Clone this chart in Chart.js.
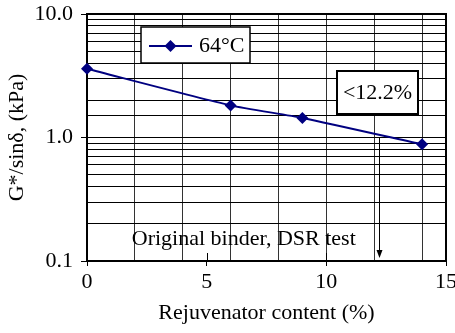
<!DOCTYPE html>
<html>
<head>
<meta charset="utf-8">
<script src="https://cdn.jsdelivr.net/npm/chart.js@4"></script>
<style>
  html, body { margin: 0; padding: 0; background: #fff; }
  canvas { display: block; }
</style>
</head>
<body>
<canvas id="grafico" width="455" height="333"></canvas>
<script>
var CONTEUDO = [0, 6, 9, 14];            // rejuvenator content (%)
var G_SIN = [3.6, 1.82, 1.44, 0.88];     // G*/sin(delta), kPa
var SERIE = "64°C";
var LIMITE = 12.2;                        // arrow position
var ROTULO_LIMITE = "<12.2%";
var NOTA = "Original binder, DSR test";
var Y_ROTULOS = [0.1, 1, 10];
var X_ROTULOS = [0, 5, 10, 15];

var FONTE = "'Liberation Serif', 'Times New Roman', serif";
var TAM = 22;
var AZUL = "#000080";

function ehDecada(v) {
  var l = Math.log10(v);
  return Math.abs(l - Math.round(l)) < 1e-6;
}

// moldura, marcas internas, legenda e anotações
var extras = {
  id: "extras",
  beforeDatasetsDraw: function (chart) {
    var ctx = chart.ctx, a = chart.chartArea, x = chart.scales.x;
    ctx.save();
    ctx.strokeStyle = "#000";
    ctx.lineWidth = 2;
    ctx.strokeRect(a.left, a.top, a.right - a.left, a.bottom - a.top);
    ctx.lineWidth = 1;
    [5, 10].forEach(function (v) {
      var px = Math.round(x.getPixelForValue(v)) + 0.5;
      ctx.beginPath();
      ctx.moveTo(px, a.bottom);
      ctx.lineTo(px, a.bottom - 8);
      ctx.stroke();
    });
    ctx.restore();
  },
  afterDatasetsDraw: function (chart) {
    var ctx = chart.ctx, a = chart.chartArea;
    var x = chart.scales.x, y = chart.scales.y;
    ctx.save();

    // legenda
    var lx = 141, ly = 27, lw = 109, lh = 36;
    ctx.fillStyle = "#fff";
    ctx.fillRect(lx, ly, lw, lh);
    ctx.strokeStyle = "#000";
    ctx.lineWidth = 1.5;
    ctx.strokeRect(lx, ly, lw, lh);
    var cy = ly + lh / 2 + 1;
    ctx.strokeStyle = AZUL;
    ctx.lineWidth = 2;
    ctx.beginPath();
    ctx.moveTo(lx + 8, cy);
    ctx.lineTo(lx + 51, cy);
    ctx.stroke();
    ctx.fillStyle = AZUL;
    ctx.beginPath();
    ctx.moveTo(lx + 29.5, cy - 6);
    ctx.lineTo(lx + 35.5, cy);
    ctx.lineTo(lx + 29.5, cy + 6);
    ctx.lineTo(lx + 23.5, cy);
    ctx.closePath();
    ctx.fill();
    ctx.fillStyle = "#000";
    ctx.font = TAM + "px " + FONTE;
    ctx.textBaseline = "middle";
    ctx.textAlign = "left";
    ctx.fillText(SERIE, lx + 58, cy);

    // caixa <12.2%
    var bx = 337, by = 71, bw = 81, bh = 43;
    ctx.fillStyle = "#fff";
    ctx.fillRect(bx, by, bw, bh);
    ctx.strokeStyle = "#000";
    ctx.lineWidth = 2;
    ctx.strokeRect(bx, by, bw, bh);
    ctx.fillStyle = "#000";
    ctx.textAlign = "center";
    ctx.fillText(ROTULO_LIMITE, bx + bw / 2, by + bh / 2 + 1);

    // seta
    var ax = Math.round(x.getPixelForValue(LIMITE)) + 0.5;
    var ay0 = y.getPixelForValue(1);
    var ay1 = a.bottom - 3;
    ctx.lineWidth = 1;
    ctx.beginPath();
    ctx.moveTo(ax, ay0);
    ctx.lineTo(ax, ay1 - 6);
    ctx.stroke();
    ctx.beginPath();
    ctx.moveTo(ax - 3, ay1 - 8);
    ctx.lineTo(ax + 3, ay1 - 8);
    ctx.lineTo(ax, ay1);
    ctx.closePath();
    ctx.fill();

    // nota
    ctx.textAlign = "center";
    ctx.textBaseline = "alphabetic";
    ctx.fillText(NOTA, x.getPixelForValue(6.55), a.bottom - 16);
    ctx.restore();
  }
};

new Chart(document.getElementById("grafico"), {
  type: "line",
  data: {
    datasets: [{
      label: SERIE,
      data: CONTEUDO.map(function (c, i) { return { x: c, y: G_SIN[i] }; }),
      borderColor: AZUL,
      backgroundColor: AZUL,
      borderWidth: 2,
      tension: 0.2,
      pointStyle: "rectRot",
      pointRadius: 6,
      pointHoverRadius: 6,
      pointBorderWidth: 0,
      clip: false
    }]
  },
  options: {
    responsive: false,
    animation: false,
    events: [],
    layout: { padding: { left: 0, right: 9, top: 14, bottom: 0 } },
    plugins: { legend: { display: false }, tooltip: { enabled: false } },
    scales: {
      x: {
        type: "linear",
        min: 0,
        max: 15,
        afterFit: function (s) { s.height = 72; s.paddingLeft = 0; s.paddingRight = 0; },
        ticks: {
          stepSize: 1,
          autoSkip: false,
          maxRotation: 0,
          padding: 3,
          color: "#000",
          font: { family: FONTE, size: TAM },
          callback: function (v) { return X_ROTULOS.indexOf(v) >= 0 ? String(v) : ""; }
        },
        grid: {
          lineWidth: 1,
          tickLength: 5,
          color: function (c) {
            var v = c.tick && c.tick.value;
            return (v > 0 && v < 15 && v % 2 === 0) ? "#333" : "rgba(0,0,0,0)";
          },
          tickColor: function (c) {
            var v = c.tick && c.tick.value;
            return X_ROTULOS.indexOf(v) >= 0 ? "#000" : "rgba(0,0,0,0)";
          }
        },
        border: { display: false },
        title: {
          display: true,
          text: "Rejuvenator content (%)",
          color: "#000",
          font: { family: FONTE, size: TAM },
          padding: { top: 2, bottom: 7 }
        }
      },
      y: {
        type: "logarithmic",
        min: 0.1,
        max: 10,
        afterFit: function (s) { s.width = 87; s.paddingTop = 0; s.paddingBottom = 0; },
        ticks: {
          autoSkip: false,
          padding: 8,
          color: "#000",
          font: { family: FONTE, size: TAM },
          callback: function (v) {
            for (var i = 0; i < Y_ROTULOS.length; i++) {
              if (Math.abs(v - Y_ROTULOS[i]) < 1e-9) { return Y_ROTULOS[i].toFixed(1); }
            }
            return "";
          }
        },
        grid: {
          lineWidth: 1,
          tickLength: 6,
          color: "#000",
          tickColor: function (c) {
            var v = c.tick && c.tick.value;
            return (v && ehDecada(v)) ? "#000" : "rgba(0,0,0,0)";
          }
        },
        border: { display: false },
        title: {
          display: true,
          text: "G*/sinδ, (kPa)",
          color: "#000",
          font: { family: FONTE, size: TAM },
          padding: { top: 4, bottom: 0 }
        }
      }
    }
  },
  plugins: [extras]
});
</script>
</body>
</html>
